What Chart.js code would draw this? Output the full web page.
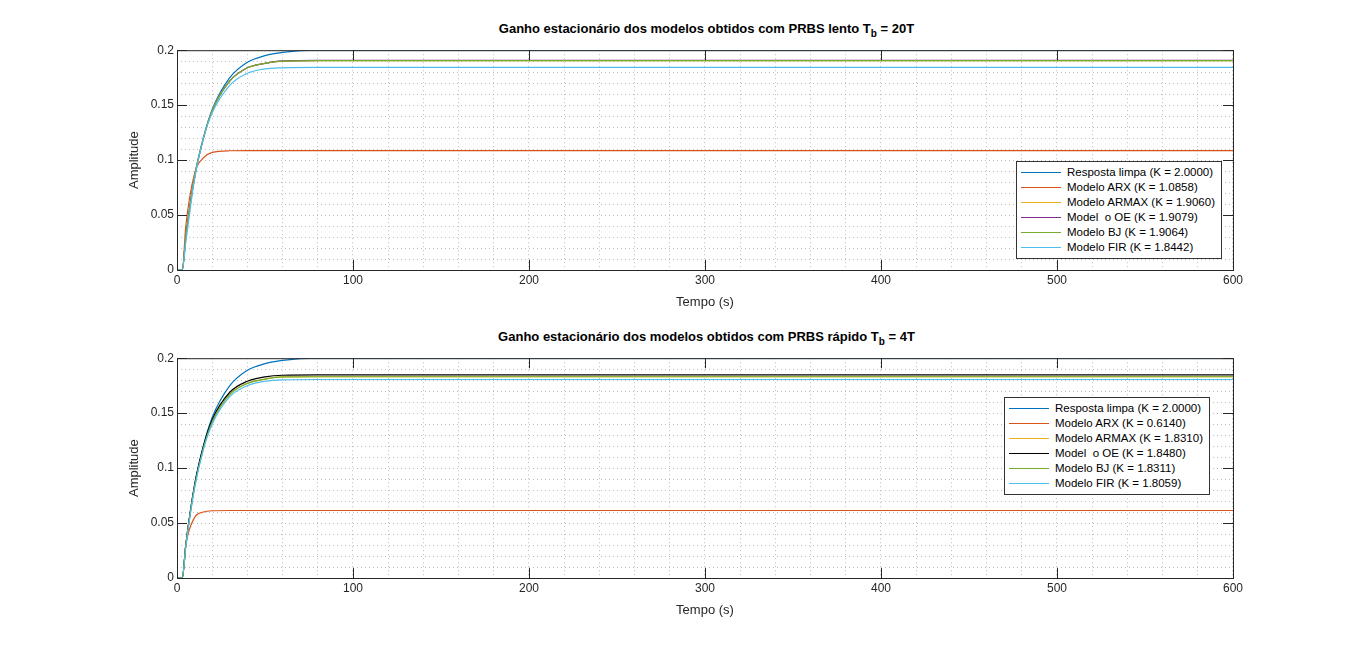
<!DOCTYPE html>
<html><head><meta charset="utf-8">
<script src="https://cdn.jsdelivr.net/npm/chart.js@4"></script>
<style>
body{margin:0;background:#fff;font-family:Arial,"Liberation Sans",sans-serif;width:1366px;height:651px;overflow:hidden;position:relative}
.ttl{position:absolute;left:177px;width:1059px;text-align:center;font-weight:bold;font-size:13px;color:#000}
.cv{position:absolute;left:127px;width:1119px;height:270px}
.lg{position:absolute;background:#fff;border:1px solid #333;font-size:11.5px;color:#000;padding:3px 6px 3px 4px}
.lg div{height:15px;line-height:15px;white-space:pre}
.lg span{display:inline-block;width:40px;height:1px;vertical-align:middle;margin-right:6px}
</style></head><body>
<div class="ttl" style="top:21px">Ganho estacionário dos modelos obtidos com PRBS lento T<sub style="font-size:10px">b</sub> = 20T</div>
<div class="ttl" style="top:329px">Ganho estacionário dos modelos obtidos com PRBS rápido T<sub style="font-size:10px">b</sub> = 4T</div>
<div class="cv" style="top:40px"><canvas id="c1"></canvas></div>
<div class="cv" style="top:348px"><canvas id="c2"></canvas></div>
<div class="lg" id="lg1" style="left:1016px;top:161px"></div>
<div class="lg" id="lg2" style="left:1004px;top:397px"></div>
<script>
var tPts = [0, 3, 5, 10, 15, 20, 30, 40, 50, 60, 80, 100, 600];
var xTicks = [0, 100, 200, 300, 400, 500, 600];
var yTicks = [0, 0.05, 0.1, 0.15, 0.2];
var colors = ["#0072BD", "#D95319", "#EDB120", "#7E2F8E", "#77AC30", "#4DBEEE"];
var colors2 = ["#0072BD", "#D95319", "#EDB120", "#000000", "#77AC30", "#4DBEEE"];

var labels1 = ["Resposta limpa (K = 2.0000)", "Modelo ARX (K = 1.0858)", "Modelo ARMAX (K = 1.9060)", "Model  o OE (K = 1.9079)", "Modelo BJ (K = 1.9064)", "Modelo FIR (K = 1.8442)"];
var labels2 = ["Resposta limpa (K = 2.0000)", "Modelo ARX (K = 0.6140)", "Modelo ARMAX (K = 1.8310)", "Model  o OE (K = 1.8480)", "Modelo BJ (K = 1.8311)", "Modelo FIR (K = 1.8059)"];

var clean = [0, 0, 0.03, 0.084, 0.12, 0.146, 0.175, 0.189, 0.195, 0.198, 0.2, 0.2, 0.2];
var arx1 = [0, 0, 0.04, 0.088, 0.102, 0.107, 0.1085, 0.1086, 0.1086, 0.1086, 0.1086, 0.1086, 0.1086];
var armax1 = [0, 0, 0.03, 0.085, 0.12, 0.145, 0.172, 0.184, 0.188, 0.19, 0.1906, 0.1906, 0.1906];
var oe1 = [0, 0, 0.03, 0.085, 0.12, 0.145, 0.172, 0.184, 0.188, 0.1902, 0.1908, 0.1908, 0.1908];
var bj1 = [0, 0, 0.03, 0.085, 0.12, 0.145, 0.172, 0.184, 0.188, 0.19, 0.1906, 0.1906, 0.1906];
var fir1 = [0, 0, 0.025, 0.083, 0.12, 0.143, 0.168, 0.179, 0.183, 0.184, 0.1844, 0.1844, 0.1844];

var arx2 = [0, 0, 0.03, 0.055, 0.06, 0.0612, 0.0614, 0.0614, 0.0614, 0.0614, 0.0614, 0.0614, 0.0614];
var armax2 = [0, 0, 0.03, 0.083, 0.118, 0.142, 0.167, 0.177, 0.181, 0.183, 0.1831, 0.1831, 0.1831];
var oe2 = [0, 0, 0.03, 0.085, 0.12, 0.144, 0.169, 0.179, 0.183, 0.1845, 0.1848, 0.1848, 0.1848];
var bj2 = [0, 0, 0.03, 0.083, 0.118, 0.142, 0.167, 0.177, 0.181, 0.183, 0.1831, 0.1831, 0.1831];
var fir2 = [0, 0, 0.028, 0.082, 0.117, 0.14, 0.165, 0.175, 0.179, 0.1803, 0.1806, 0.1806, 0.1806];

var series1 = [clean, arx1, armax1, oe1, bj1, fir1];
var series2 = [clean, arx2, armax2, oe2, bj2, fir2];

// MATLAB-like box round the plot area, with inward tick marks
var boxPlugin = {
    id: "box",
    afterDraw: function (chart) {
        var a = chart.chartArea, c = chart.ctx;
        var xs = chart.scales.x, ys = chart.scales.y;
        c.save();
        c.strokeStyle = "#262626";
        c.lineWidth = 1;
        c.strokeRect(a.left + 0.5, a.top + 0.5, a.right - a.left, a.bottom - a.top);
        c.beginPath();
        xTicks.forEach(function (v) {
            var px = Math.round(xs.getPixelForValue(v)) + 0.5;
            c.moveTo(px, a.bottom); c.lineTo(px, a.bottom - 10);
            c.moveTo(px, a.top); c.lineTo(px, a.top + 10);
        });
        yTicks.forEach(function (v) {
            var py = Math.round(ys.getPixelForValue(v)) + 0.5;
            c.moveTo(a.left, py); c.lineTo(a.left + 10, py);
            c.moveTo(a.right, py); c.lineTo(a.right - 10, py);
        });
        c.stroke();
        c.restore();
    }
};

function makeChart(id, series, cols) {
    var datasets = series.map(function (s, i) {
        return {
            data: s.map(function (v, j) { return { x: tPts[j], y: v }; }),
            borderColor: cols[i],
            borderWidth: 1.2,
            pointRadius: 0,
            order: series.length - i,
            cubicInterpolationMode: "monotone",
            fill: false
        };
    });
    new Chart(document.getElementById(id), {
        type: "line",
        data: { datasets: datasets },
        plugins: [boxPlugin],
        options: {
            responsive: true,
            maintainAspectRatio: false,
            animation: false,
            layout: { padding: { top: 8, right: 10 } },
            plugins: { legend: { display: false }, tooltip: { enabled: false } },
            scales: {
                x: {
                    type: "linear", min: 0, max: 600,
                    afterFit: function (s) { s.height = 40; },
                    ticks: {
                        stepSize: 20, autoSkip: false, maxRotation: 0, color: "#262626",
                        font: { size: 12 },
                        callback: function (v) { return xTicks.indexOf(v) >= 0 ? v : ""; }
                    },
                    grid: { color: "#bdbdbd", tickLength: 0 },
                    border: { dash: [1, 3], display: false },
                    title: { display: true, text: "Tempo (s)", font: { size: 13 }, color: "#262626", padding: 0 }
                },
                y: {
                    min: 0, max: 0.2,
                    afterFit: function (s) { s.width = 50; },
                    ticks: {
                        stepSize: 0.01, autoSkip: false, color: "#262626", font: { size: 12 },
                        callback: function (v) {
                            var r = Math.round(v * 100) / 100;
                            return yTicks.indexOf(r) >= 0 ? String(r) : "";
                        }
                    },
                    grid: { color: "#bdbdbd", tickLength: 0 },
                    border: { dash: [1, 3], display: false },
                    title: { display: true, text: "Amplitude", font: { size: 13 }, color: "#262626", padding: 0 }
                }
            }
        }
    });
}

function makeLegend(id, labels, cols) {
    var el = document.getElementById(id);
    labels.forEach(function (l, i) {
        var d = document.createElement("div");
        var s = document.createElement("span");
        s.style.background = cols[i];
        d.appendChild(s);
        d.appendChild(document.createTextNode(l));
        el.appendChild(d);
    });
}

makeChart("c1", series1, colors);
makeChart("c2", series2, colors2);
makeLegend("lg1", labels1, colors);
makeLegend("lg2", labels2, colors2);
</script>
</body></html>
